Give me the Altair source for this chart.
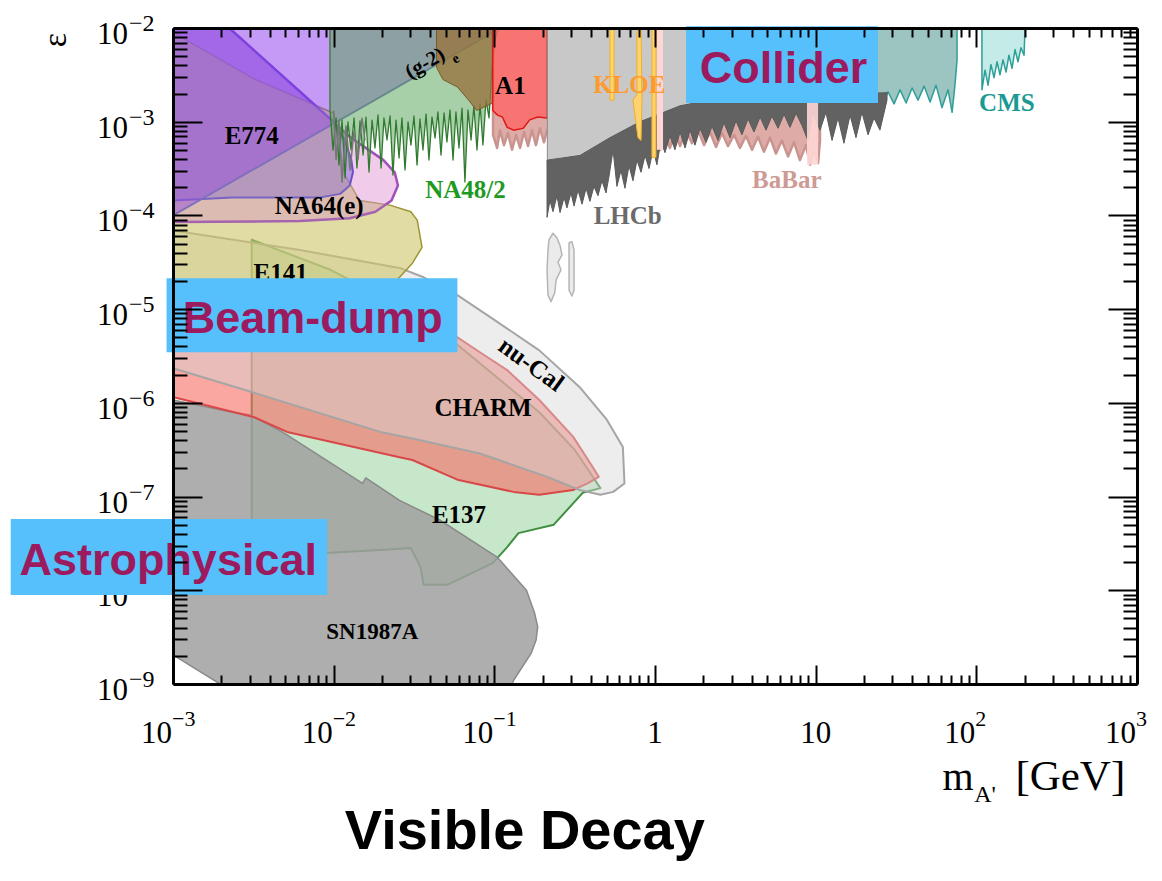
import altair as alt
import pandas as pd

# ---------------------------------------------------------------
# Values.
# LM = log10(m_A' / GeV), LE = log10(epsilon); polygons listed in boundary order
# ---------------------------------------------------------------
SN_LM = [-3.00,-2.66,-2.52,-2.32,-1.82,-1.80,-1.59,-1.34,-0.98,-0.80,-0.75,-0.73,-0.74,-0.77,-0.88,-0.90,-2.66,-3.00]
SN_LE = [-5.97,-6.09,-6.13,-6.31,-6.86,-6.80,-7.04,-7.25,-7.65,-8.00,-8.24,-8.39,-8.53,-8.67,-8.96,-9.05,-9.05,-8.69]

E137_LM = [-2.51,-2.02,-1.59,-1.23,-0.72,-0.50,-0.34,-0.45,-0.63,-0.85,-0.92,-1.01,-1.29,-1.44,-1.46,-1.52,-1.71,-2.02,-2.51]
E137_LE = [-4.26,-4.58,-4.96,-5.38,-6.10,-6.50,-6.91,-6.96,-7.30,-7.39,-7.54,-7.71,-7.94,-7.94,-7.75,-7.55,-7.57,-7.60,-7.62]

CHARM_LM = [-3.00,-2.21,-1.59,-1.23,-1.09,-0.92,-0.72,-0.51,-0.39,-0.35,-0.42,-0.51,-0.72,-0.88,-1.23,-1.51,-1.59,-2.29,-2.50,-2.97,-3.00]
CHARM_LE = [-4.80,-4.96,-5.09,-5.30,-5.46,-5.65,-5.97,-6.36,-6.68,-6.79,-6.86,-6.93,-6.98,-6.95,-6.82,-6.61,-6.58,-6.31,-6.15,-5.95,-5.94]

NUCAL_LM = [-3.00,-2.21,-1.59,-1.44,-1.23,-1.03,-0.72,-0.47,-0.30,-0.20,-0.19,-0.26,-0.34,-0.47,-0.67,-1.09,-1.51,-1.71,-2.50,-3.00]
NUCAL_LE = [-4.16,-4.37,-4.56,-4.66,-4.85,-5.08,-5.44,-5.83,-6.18,-6.47,-6.86,-6.95,-6.98,-6.93,-6.79,-6.54,-6.38,-6.31,-5.89,-5.63]

E141_LM = [-3.00,-2.49,-2.00,-1.93,-1.84,-1.65,-1.52,-1.48,-1.45,-1.51,-1.59,-1.68,-1.77,-2.21,-3.00]
E141_LE = [-2.05,-2.55,-2.91,-3.57,-3.84,-3.89,-3.96,-4.05,-4.34,-4.51,-4.66,-4.80,-4.90,-5.09,-5.22]

NA64_LM = [-3.00,-2.65,-2.21,-1.90,-1.69,-1.62,-1.60,-1.64,-1.74,-1.90,-2.21,-3.00]
NA64_LE = [-2.00,-2.00,-2.68,-3.16,-3.41,-3.54,-3.68,-3.84,-3.96,-4.03,-4.06,-4.07]

E774_LM = [-3.00,-2.65,-2.00,-1.93,-1.89,-1.88,-1.90,-1.96,-2.09,-2.63,-3.00]
E774_LE = [-2.00,-2.00,-3.00,-3.20,-3.41,-3.54,-3.68,-3.77,-3.81,-3.81,-3.84]

G2_LM = [-3.00,-0.96,-3.00]
G2_LE = [-4.00,-2.00,-2.00]

NA48_LM = [-2.023,-2.023,-2.004,-1.985,-1.967,-1.948,-1.929,-1.911,-1.892,-1.873,-1.855,
           -1.836,-1.817,-1.799,-1.780,-1.761,-1.743,-1.724,-1.705,-1.687,-1.668,
           -1.649,-1.631,-1.612,-1.593,-1.575,-1.556,-1.537,-1.519,-1.500,-1.481,
           -1.463,-1.444,-1.425,-1.407,-1.388,-1.369,-1.351,-1.332,-1.313,-1.295,
           -1.276,-1.257,-1.239,-1.220,-1.201,-1.183,-1.164,-1.145,-1.127,-1.108,
           -1.089,-1.071,-1.052,-1.033,-1.015,-0.996,-0.977]
NA48_LE = [-2.000,-2.875,-3.302,-2.960,-3.462,-2.982,-3.601,-3.003,-3.302,-2.960,-3.494,
           -2.992,-3.355,-2.950,-3.537,-2.982,-3.281,-2.928,-3.494,-2.960,-3.195,
           -2.939,-3.569,-2.982,-3.387,-2.960,-3.515,-3.003,-3.249,-2.939,-3.462,
           -2.971,-3.302,-2.918,-3.409,-2.950,-3.174,-2.896,-3.355,-2.907,-3.216,
           -2.875,-3.409,-2.896,-3.281,-2.854,-3.643,-2.875,-3.195,-2.832,-3.302,
           -2.811,-3.249,-2.768,-2.960,-2.416,-2.128,-2.000]

LOWSPIKE_LM = [-2.00,-1.985,-1.967,-1.948,-1.923,-1.898,-1.873,-1.849,-1.824,-1.805]
LOWSPIKE_LE = [-2.88,-3.41,-2.98,-3.65,-3.04,-3.52,-3.09,-3.41,-2.96,-3.20]

BROWN_LM = [-1.36,-1.36,-1.32,-1.23,-1.16,-1.11,-1.01,-1.01]
BROWN_LE = [-2.00,-2.42,-2.55,-2.63,-2.77,-2.88,-2.80,-2.00]

A1_LM = [-1.01,-1.01,-0.98,-0.95,-0.92,-0.88,-0.82,-0.78,-0.73,-0.67,-0.67]
A1_LE = [-2.00,-2.88,-2.93,-2.95,-3.06,-3.09,-3.07,-2.98,-2.95,-2.96,-2.00]

BABAR_LM = [-1.008,-0.983,-0.965,-0.940,-0.915,-0.890,-0.865,
            -0.840,-0.815,-0.790,-0.766,-0.741,-0.716,-0.691,-0.672,-0.342,0.000,
            0.031,0.062,0.093,0.124,0.156,0.193,0.230,0.268,0.305,0.342,
            0.380,0.417,0.454,0.492,0.529,0.566,0.604,0.641,0.678,0.716,
            0.753,0.790,0.828,0.865,0.902,0.940,0.965,0.990,1.015,1.027]
BABAR_LE = [-3.14,-3.28,-3.09,-3.25,-3.12,-3.30,-3.14,
            -3.28,-3.11,-3.26,-3.09,-3.25,-3.07,-3.22,-3.09,-3.20,-3.25,
            -3.30,-3.14,-3.28,-3.11,-3.26,-3.09,-3.23,-3.09,-3.25,-3.11,
            -3.27,-3.12,-3.26,-3.14,-3.28,-3.15,-3.30,-3.16,-3.32,-3.17,
            -3.34,-3.20,-3.37,-3.22,-3.41,-3.25,-3.46,-3.30,-3.44,-3.20]

LHCB_FILL_LM = [-0.67,-0.67,-0.47,-0.28,-0.09,0.16,0.40,1.40,1.40]
LHCB_FILL_LE = [-2.00,-3.46,-3.39,-3.20,-3.04,-2.85,-2.77,-2.71,-2.00]

LHCB_TOP_LM = [-0.672,-0.467,-0.280,-0.093,0.156,0.405,1.444]
LHCB_TOP_LE = [-3.41,-3.36,-3.17,-3.00,-2.83,-2.75,-2.69]
LHCB_LO_LM = [-0.672,-0.654,-0.635,-0.610,-0.591,-0.566,-0.548,-0.523,-0.504,-0.479,
              -0.454,-0.429,-0.405,-0.380,-0.355,-0.330,-0.305,-0.286,-0.261,-0.237,
              -0.212,-0.187,-0.162,-0.137,-0.112,-0.087,-0.062,-0.037,-0.012,0.012,
              0.037,0.062,0.093,0.124,0.156,0.187,0.218,0.249,0.280,0.317,
              0.355,0.392,0.429,0.467,0.504,0.541,0.579,0.616,0.654,0.691,
              0.728,0.766,0.803,0.840,0.878,0.915,0.952,0.983,1.027,1.064,
              1.102,1.139,1.176,1.214,1.251,1.288,1.326,1.363,1.400,1.444]
LHCB_LO_LE = [-4.02,-3.84,-3.96,-3.79,-3.97,-3.81,-3.92,-3.76,-3.90,-3.73,
              -3.88,-3.71,-3.85,-3.69,-3.79,-3.63,-3.76,-3.58,-3.30,-3.69,
              -3.52,-3.71,-3.47,-3.63,-3.41,-3.54,-3.36,-3.50,-3.30,-3.46,
              -3.20,-3.33,-3.15,-3.30,-3.11,-3.28,-3.09,-3.25,-3.07,-3.22,
              -3.05,-3.20,-3.01,-3.17,-2.99,-3.14,-2.97,-3.11,-2.95,-3.09,
              -2.94,-3.07,-2.92,-3.06,-2.91,-3.04,-3.20,-2.90,-3.09,-2.90,
              -3.20,-2.96,-3.23,-2.93,-3.17,-2.90,-3.14,-2.96,-3.09,-2.77]

TEAL_LM = [1.027,1.027,1.064,1.102,1.139,1.189,1.226,1.263,1.301,1.338,1.376,1.413,1.450,1.488,
           1.525,1.563,1.600,1.637,1.675,1.712,1.749,1.786,1.824,1.849,1.867,1.880,1.880]
TEAL_LE = [-2.00,-2.98,-2.85,-3.00,-2.82,-2.96,-2.77,-2.93,-2.75,-2.90,-2.71,-2.85,-2.68,-2.81,
           -2.66,-2.80,-2.64,-2.77,-2.62,-2.79,-2.61,-2.85,-2.66,-2.90,-2.61,-2.34,-2.00]

CMS_LM = [2.035,2.035,2.054,2.073,2.091,2.110,2.129,2.147,2.166,2.185,2.203,2.222,2.241,2.259,2.278,2.297,2.303]
CMS_LE = [-2.00,-2.66,-2.45,-2.61,-2.39,-2.53,-2.36,-2.50,-2.34,-2.47,-2.29,-2.43,-2.23,-2.36,-2.21,-2.29,-2.00]

KLOE1_LM = [-0.280,-0.255,-0.255,-0.280]
KLOE1_LE = [-2.00,-2.00,-2.77,-2.77]
KLOE2_LM = [-0.112,-0.087,-0.081,-0.087,-0.106,-0.137,-0.112]
KLOE2_LE = [-2.00,-2.00,-2.77,-3.20,-3.17,-2.77,-2.71]
KLOE3_LM = [-0.019,0.006,0.006,-0.019]
KLOE3_LE = [-2.00,-2.00,-3.38,-3.38]

PINK1_LM = [0.012,0.050,0.050,0.012]
PINK1_LE = [-2.00,-2.00,-3.30,-3.30]
PINK2_LM = [0.946,1.015,1.015,0.946]
PINK2_LE = [-2.00,-2.00,-3.46,-3.46]

ISL1_LM = [-0.660,-0.635,-0.610,-0.591,-0.579,-0.604,-0.585,-0.616,-0.623,-0.647,-0.666,-0.672,-0.666]
ISL1_LE = [-4.26,-4.19,-4.24,-4.32,-4.42,-4.50,-4.58,-4.69,-4.82,-4.92,-4.85,-4.58,-4.37]
ISL2_LM = [-0.535,-0.517,-0.504,-0.504,-0.517,-0.535,-0.535]
ISL2_LE = [-4.29,-4.28,-4.37,-4.80,-4.86,-4.80,-4.37]

# region labels: text, log10 m, log10 eps, colour, size, angle
LAB_T = ["E774", "NA64(e)", "E141", "(g-2)", "e", "A1", "KLOE", "NA48/2", "LHCb", "BaBar", "CMS",
         "nu-Cal", "CHARM", "E137", "SN1987A"]
LAB_LM = [-2.51, -2.09, -2.33, -1.43, -1.24, -0.90, -0.16, -1.18, -0.17, 0.82, 2.19, -0.77, -1.07, -1.22, -1.76]
LAB_LE = [-3.15, -3.90, -4.61, -2.38, -2.33, -2.62, -2.61, -3.73, -4.01, -3.62, -2.80, -5.59, -6.05, -7.20, -8.45]
LAB_C = ["black", "black", "black", "black", "black", "black", "#ff9a2e", "#1f9a1f", "#6b6b6b", "#cd9a95",
         "#1a9a93", "black", "black", "black", "black"]
LAB_S = [25, 25, 25, 21, 14, 25, 25, 25, 25, 25, 25, 25, 25, 25, 23]
LAB_A = [0, 0, 0, 330, 330, 0, 0, 0, 0, 0, 0, 36, 0, 0, 0]

# category boxes
BOX_T = ["Collider", "Beam-dump", "Astrophysical"]
BOX_LM1 = [0.193, -3.04, -4.01]
BOX_LM2 = [1.388, -1.23, -2.04]
BOX_LE1 = [-1.98, -4.67, -7.24]
BOX_LE2 = [-2.80, -5.46, -8.05]
BOX_TLM = [0.80, -2.13, -3.03]
BOX_TLE = [-2.59, -5.25, -7.84]

# axis tick labels
X_EXP_VALS = [1e-3, 1e-2, 1e-1, 1e2, 1e3]
X_EXP_TXT = ["\u22123", "\u22122", "\u22121", "2", "3"]
X_PLAIN_VALS = [1.0, 10.0]
X_PLAIN_TXT = ["1", "10"]
Y_VALS = [1e-2, 1e-3, 1e-4, 1e-5, 1e-6, 1e-7, 1e-8, 1e-9]
Y_EXP_TXT = ["\u22122", "\u22123", "\u22124", "\u22125", "\u22126", "\u22127", "\u22128", "\u22129"]

XMAJ = [1e-3, 1e-2, 1e-1, 1.0, 10.0, 100.0, 1000.0]
XMIN_T = [d * 10.0 ** k for k in range(-3, 3) for d in range(2, 10)]
YMAJ = [10.0 ** k for k in range(-9, -1)]
YMIN_T = [d * 10.0 ** k for k in range(-9, -2) for d in range(2, 10)]

# ---------------------------------------------------------------
xs = alt.Scale(type="log", domain=[1e-3, 1e3], nice=False)
ys = alt.Scale(type="log", domain=[1e-9, 1e-2], nice=False)
XN = alt.X("m:Q", scale=xs, axis=None)
YN = alt.Y("eps:Q", scale=ys, axis=None)


def tbl(lm, le):
    return pd.DataFrame({"m": [10.0 ** v for v in lm], "eps": [10.0 ** v for v in le], "i": list(range(len(lm)))})


def poly(lm, le, fill, fo, stroke=None, sw=0.0):
    kw = dict(interpolate="linear-closed", clip=True, fill=fill, fillOpacity=fo, strokeJoin="round")
    if stroke:
        kw.update(stroke=stroke, strokeWidth=sw)
    else:
        kw.update(strokeWidth=0, strokeOpacity=0)
    return alt.Chart(tbl(lm, le)).mark_line(**kw).encode(x=XN, y=YN, order=alt.Order("i:Q"))


def open_line(lm, le, stroke, sw):
    return alt.Chart(tbl(lm, le)).mark_line(clip=True, stroke=stroke, strokeWidth=sw).encode(
        x=XN, y=YN, order=alt.Order("i:Q"))


layers = []
layers.append(poly(E137_LM, E137_LE, "#8fd095", 0.5, "#3f8f3f", 2))
layers.append(poly(SN_LM, SN_LE, "#a0a0a0", 0.85, "#8a8a8a", 1.5))
layers.append(poly(CHARM_LM, CHARM_LE, "#f66a62", 0.6, "#d94848", 2))
layers.append(poly(NUCAL_LM, NUCAL_LE, "#d6d6d6", 0.45, "#a5a5a5", 2))
layers.append(poly(E141_LM, E141_LE, "#dcd552", 0.5, "#9a9428", 1.5))
layers.append(poly(NA64_LM, NA64_LE, "#e08ed0", 0.45, "#a050b8", 2.5))
layers.append(poly(E774_LM, E774_LE, "#8468d4", 0.5, "#6650d0", 2))
layers.append(poly(G2_LM, G2_LE, "#8b35ef", 0.5, "#7060c8", 2))
layers.append(poly(E141_LM, E141_LE, "#b4a898", 0.22))          # E141 veil over the purple bands
layers.append(poly(BABAR_LM + [1.027, -1.008], BABAR_LE + [-2.0, -2.0], "#dca6a2", 0.95, "#c99490", 2.5))
layers.append(poly(NA48_LM, NA48_LE, "#5fa860", 0.55, "#2f7a2f", 1.3))
layers.append(open_line(LOWSPIKE_LM, LOWSPIKE_LE, "#777777", 1.5))
layers.append(poly(BROWN_LM, BROWN_LE, "#987440", 0.8, "#7a5a2a", 1))
layers.append(poly(A1_LM, A1_LE, "#ff6262", 0.75, "#e01818", 1.5))
layers.append(poly(LHCB_FILL_LM, LHCB_FILL_LE, "#c8c8c8", 1.0, "#8c8c8c", 1))
layers.append(poly(TEAL_LM, TEAL_LE, "#9cc5c1", 1.0, "#2e9e98", 1.5))
layers.append(poly(LHCB_TOP_LM + LHCB_LO_LM[::-1], LHCB_TOP_LE + LHCB_LO_LE[::-1], "#626262", 1.0, "#5a5a5a", 1))
layers.append(poly(PINK1_LM, PINK1_LE, "#ffd6d6", 1.0))
layers.append(poly(PINK2_LM, PINK2_LE, "#ffd6d6", 0.9))
for a, b in [(KLOE1_LM, KLOE1_LE), (KLOE2_LM, KLOE2_LE), (KLOE3_LM, KLOE3_LE)]:
    layers.append(poly(a, b, "#ffd470", 1.0, "#f0b020", 1))
layers.append(poly(CMS_LM, CMS_LE, "#c4ebe8", 1.0, "#2e9e98", 1.5))
layers.append(poly(ISL1_LM, ISL1_LE, "#ebebeb", 1.0, "#b5b5b5", 1.5))
layers.append(poly(ISL2_LM, ISL2_LE, "#ebebeb", 1.0, "#b5b5b5", 1.5))

# region labels
lab = pd.DataFrame({"t": LAB_T, "m": [10.0 ** v for v in LAB_LM], "eps": [10.0 ** v for v in LAB_LE],
                    "c": LAB_C, "s": LAB_S, "a": LAB_A})
layers.append(alt.Chart(lab).mark_text(font="Liberation Serif", fontWeight="bold", align="center",
                                       baseline="middle").encode(
    x=XN, y=YN, text="t:N", color=alt.Color("c:N", scale=None), size=alt.Size("s:Q", scale=None),
    angle=alt.Angle("a:Q", scale=None)))

# tick labels (drawn before the boxes, which cover some of them as in the figure)
SERIF = "Liberation Serif"
ylab = pd.DataFrame({"m": [1e-3] * len(Y_VALS), "eps": Y_VALS, "b": ["10"] * len(Y_VALS), "e": Y_EXP_TXT})
layers.append(alt.Chart(ylab).mark_text(font=SERIF, fontSize=31, align="right", baseline="alphabetic",
                                        dx=-45, dy=16).encode(x=XN, y=YN, text="b:N"))
layers.append(alt.Chart(ylab).mark_text(font=SERIF, fontSize=24, align="left", baseline="alphabetic",
                                        dx=-44, dy=3).encode(x=XN, y=YN, text="e:N"))
xlab = pd.DataFrame({"m": X_EXP_VALS, "eps": [1e-9] * len(X_EXP_VALS), "b": ["10"] * len(X_EXP_VALS), "e": X_EXP_TXT})
layers.append(alt.Chart(xlab).mark_text(font=SERIF, fontSize=31, align="right", baseline="alphabetic",
                                        dx=-1, dy=59).encode(x=XN, y=YN, text="b:N"))
layers.append(alt.Chart(xlab).mark_text(font=SERIF, fontSize=22, align="left", baseline="alphabetic",
                                        dx=-1, dy=42).encode(x=XN, y=YN, text="e:N"))
xplain = pd.DataFrame({"m": X_PLAIN_VALS, "eps": [1e-9] * 2, "b": X_PLAIN_TXT})
layers.append(alt.Chart(xplain).mark_text(font=SERIF, fontSize=31, align="center", baseline="alphabetic",
                                          dy=59).encode(x=XN, y=YN, text="b:N"))

# category boxes
box = pd.DataFrame({"t": BOX_T,
                    "m1": [10.0 ** v for v in BOX_LM1], "m2": [10.0 ** v for v in BOX_LM2],
                    "e1": [10.0 ** v for v in BOX_LE1], "e2": [10.0 ** v for v in BOX_LE2],
                    "m": [10.0 ** v for v in BOX_TLM], "eps": [10.0 ** v for v in BOX_TLE]})
layers.append(alt.Chart(box).mark_rect(color="#56c0fc").encode(
    x=alt.X("m1:Q", scale=xs, axis=None), x2="m2:Q", y=alt.Y("e1:Q", scale=ys, axis=None), y2="e2:Q"))
layers.append(alt.Chart(box).mark_text(font="Liberation Sans", fontWeight="bold", fontSize=45,
                                       color="#9b1b5e", align="center", baseline="alphabetic").encode(
    x=XN, y=YN, text="t:N"))

# axis titles and figure caption
TITLE_T = ["m", "A'", "[GeV]"]
TITLE_LM = [1.886, 2.054, 2.585]
TITLE_LE = [-10.13, -10.26, -10.13]
TITLE_S = [40, 24, 43]
tt = pd.DataFrame({"t": TITLE_T, "m": [10.0 ** v for v in TITLE_LM], "eps": [10.0 ** v for v in TITLE_LE], "s": TITLE_S})
layers.append(alt.Chart(tt).mark_text(font=SERIF, align="center", baseline="alphabetic").encode(
    x=XN, y=YN, text="t:N", size=alt.Size("s:Q", scale=None)))
eps_t = pd.DataFrame({"t": ["\u03b5"], "m": [10.0 ** -3.73], "eps": [10.0 ** -2.13]})
layers.append(alt.Chart(eps_t).mark_text(font=SERIF, fontSize=34, angle=270, align="center",
                                         baseline="middle").encode(x=XN, y=YN, text="t:N"))
cap = pd.DataFrame({"t": ["Visible Decay"], "m": [10.0 ** -0.81], "eps": [10.0 ** -10.76]})
layers.append(alt.Chart(cap).mark_text(font="Liberation Sans", fontWeight="bold", fontSize=56, align="center",
                                       baseline="alphabetic").encode(x=XN, y=YN, text="t:N"))

# axes: inward ticks (negative offset) and frame
dummy = pd.DataFrame({"m": [1.0], "eps": [1e-5]})


def axis_layer(ch, orient, values, size, width=2.0, domain=False):
    ax = alt.Axis(orient=orient, values=values, tickSize=size if size > 0 else 0, offset=-size,
                  labels=False, domain=domain, domainColor="black", domainWidth=3,
                  ticks=size > 0, tickColor="black", tickWidth=width, grid=False, title=None, zindex=2)
    if ch == "x":
        enc = dict(x=alt.X("m:Q", scale=xs, axis=ax), y=YN)
    else:
        enc = dict(x=XN, y=alt.Y("eps:Q", scale=ys, axis=ax))
    return alt.Chart(dummy).mark_point(opacity=0).encode(**enc)


for o in ["bottom", "top"]:
    layers.append(axis_layer("x", o, XMAJ, 19))
    layers.append(axis_layer("x", o, XMIN_T, 9))
    layers.append(axis_layer("x", o, XMAJ, 0, domain=True))
for o in ["left", "right"]:
    layers.append(axis_layer("y", o, YMAJ, 29))
    layers.append(axis_layer("y", o, YMIN_T, 14))
    layers.append(axis_layer("y", o, YMAJ, 0, domain=True))

chart = alt.layer(*layers).resolve_axis(x="independent", y="independent").properties(
    width=964, height=656,
    padding={"left": 165, "top": 20, "right": 15, "bottom": 182},
    autosize=alt.AutoSizeParams(type="none"),
).configure_view(stroke=None)

chart.save("out.html", embed_options={"renderer": "svg", "actions": False})
